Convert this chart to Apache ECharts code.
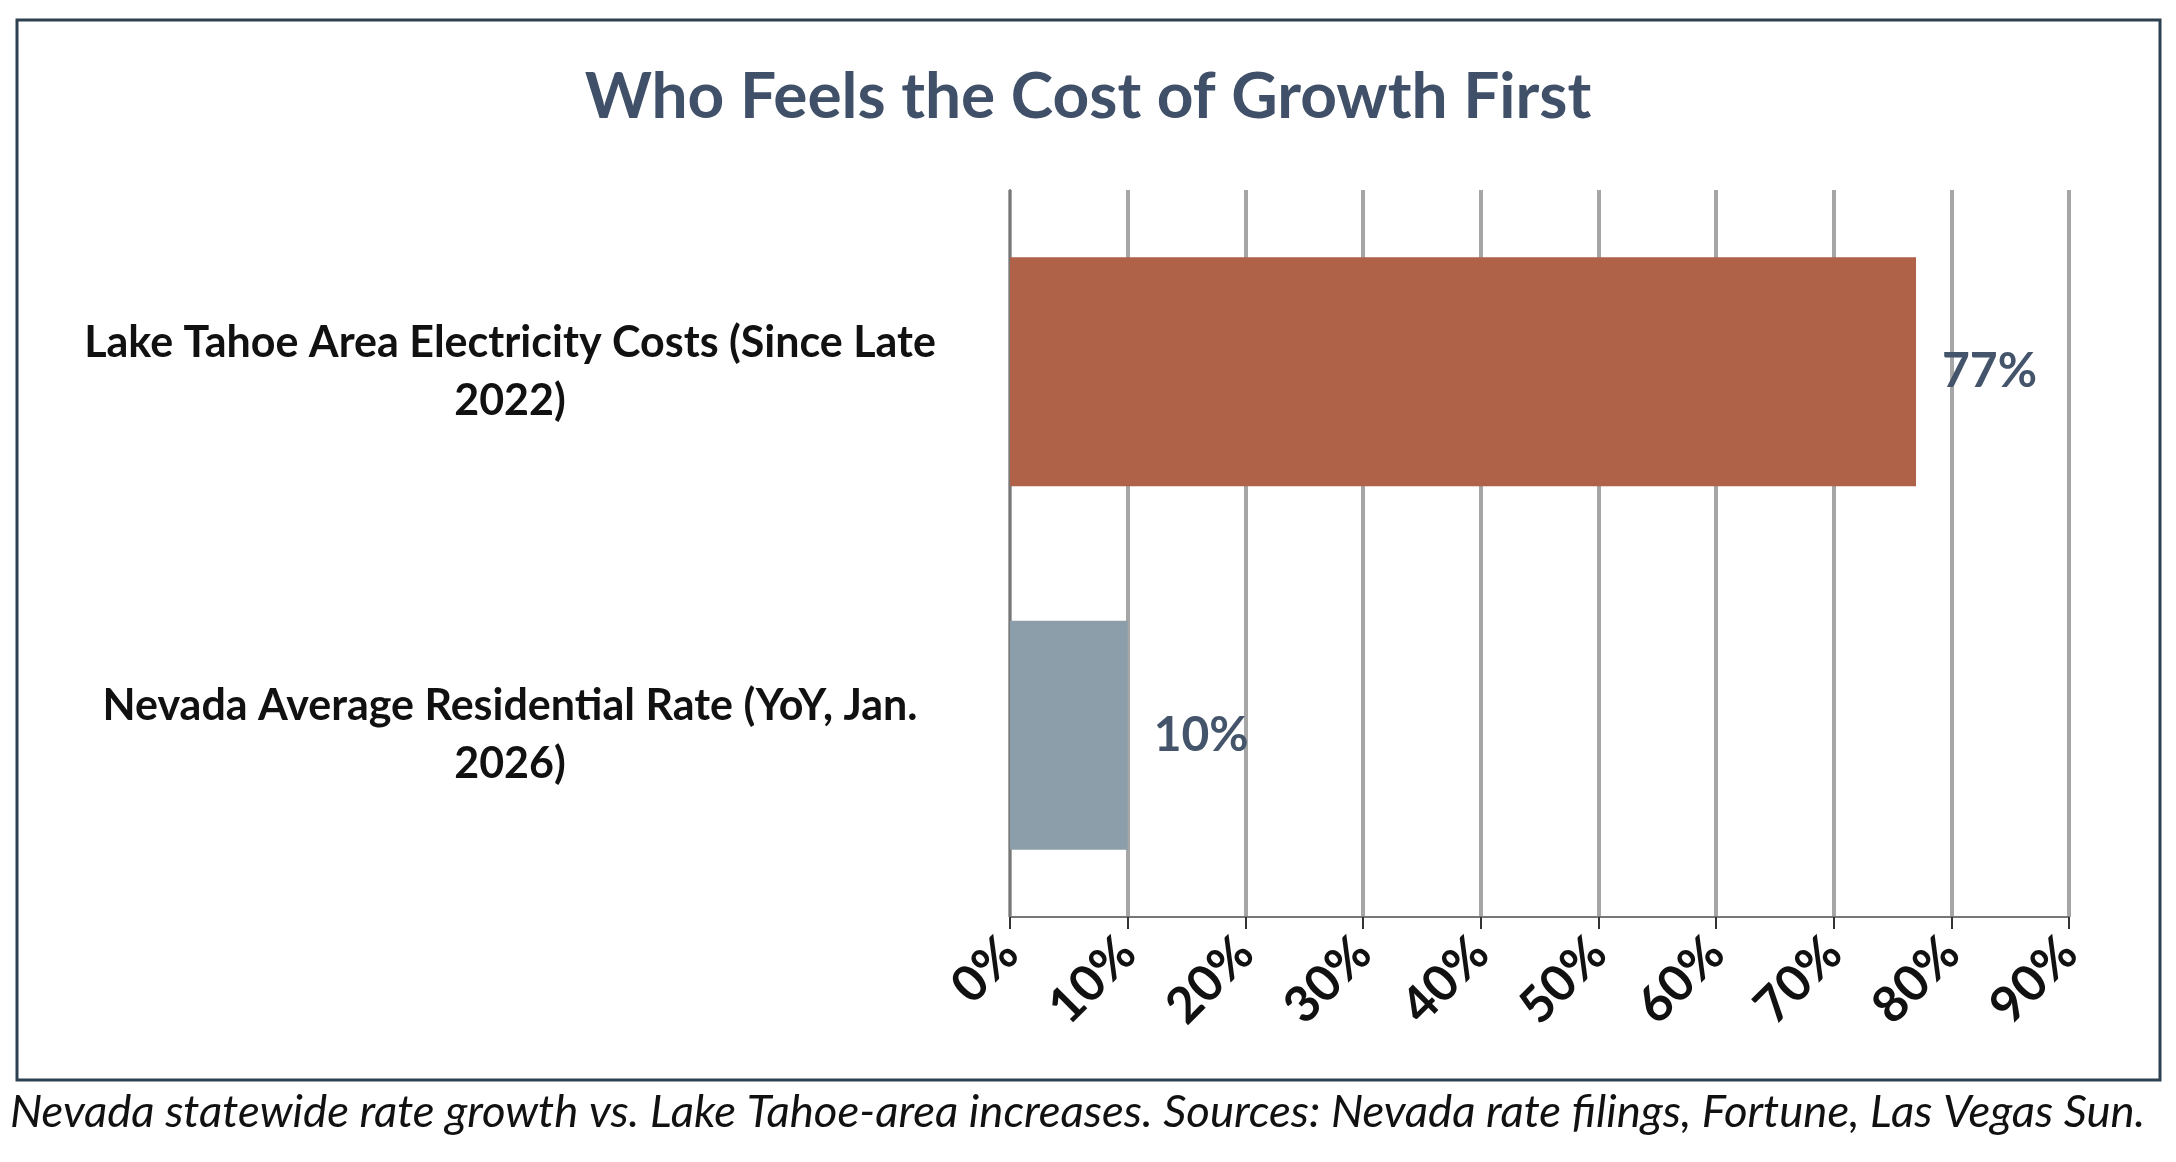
<!DOCTYPE html><html><head><meta charset="utf-8"><script src="https://cdn.jsdelivr.net/npm/echarts@6/dist/echarts.min.js"></script>
<style>html,body{margin:0;padding:0;background:#fff}#c{width:2176px;height:1162px}</style></head><body><div id="c"></div><script>
const categories=["Nevada Average Residential Rate (YoY, Jan.\n2026)","Lake Tahoe Area Electricity Costs (Since Late\n2022)"];
const values=[10,77];
const colors=["#8c9ea9","#b06248"];
const title="Who Feels the Cost of Growth First";
const caption="Nevada statewide rate growth vs. Lake Tahoe-area increases. Sources: Nevada rate filings, Fortune, Las Vegas Sun.";
const chart=echarts.init(document.getElementById('c'));
chart.setOption({
 title:{text:title,left:'center',top:60,textStyle:{fontFamily:'Lato',fontSize:64,fontWeight:'bold',color:'#3f5068'}},
 graphic:[
  {type:'rect',shape:{x:17,y:20,width:2143,height:1060},style:{fill:'none',stroke:'#2e4150',lineWidth:3}},
  {type:'text',x:10,y:1112,style:{text:caption,fontFamily:'Lato',fontStyle:'italic',fontSize:45.5,fill:'#111',textVerticalAlign:'middle'}}
 ],
 grid:{left:1010,right:107,top:190,bottom:245},
 xAxis:{type:'value',min:0,max:90,interval:10,
  axisLabel:{formatter:'{value}%',rotate:45,fontFamily:'Lato',fontWeight:'bold',fontSize:50,color:'#111',margin:28},
  axisLine:{show:true,lineStyle:{color:'#777',width:2}},axisTick:{show:true,length:12,lineStyle:{color:'#333',width:2}},
  splitLine:{lineStyle:{color:'#a6a6a6',width:4}}},
 yAxis:{type:'category',data:categories,
  axisLabel:{fontFamily:'Lato',fontWeight:'bold',fontSize:43,color:'#111',align:'center',margin:500,lineHeight:58},
  axisLine:{lineStyle:{color:'#777',width:2}},axisTick:{length:12,lineStyle:{color:'#333',width:2}}},
 series:[{type:'bar',barWidth:'63%',data:values.map((v,i)=>({value:v,itemStyle:{color:colors[i]}})),
  label:{show:true,position:'right',distance:26,formatter:'{c}%',fontFamily:'Lato',fontWeight:'bold',fontSize:48,color:'#44546a'}}]
});
</script></body></html>
